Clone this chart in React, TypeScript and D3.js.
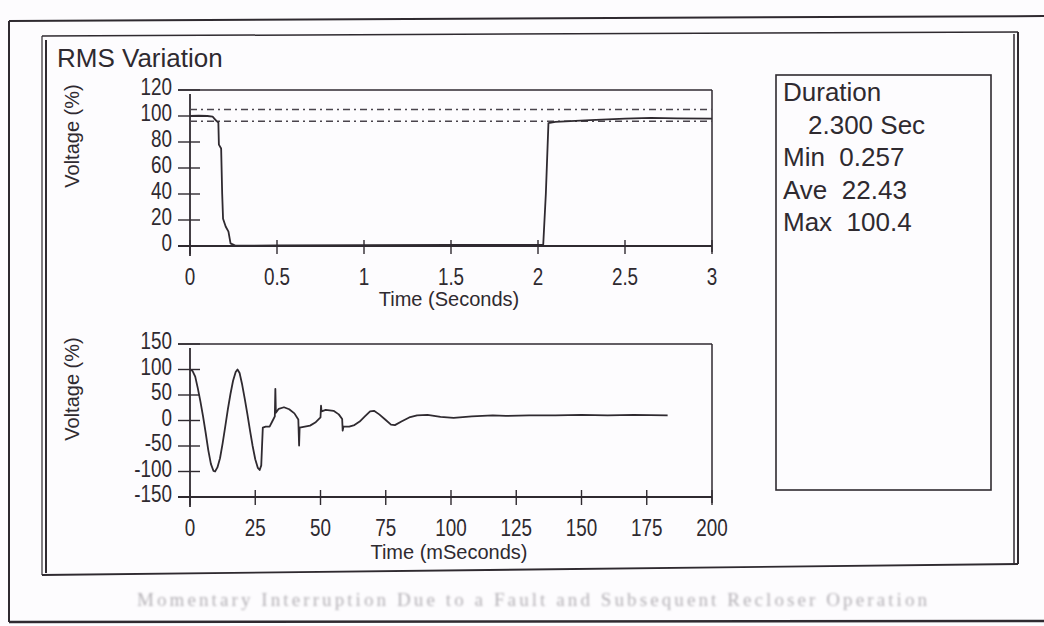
import React from "react";
import * as d3 from "d3";

// RMS trace (time in seconds, voltage in %)
const rmsTime = [0, 0.05, 0.1, 0.13, 0.15, 0.163, 0.166, 0.179, 0.185, 0.19, 0.205, 0.221, 0.233, 0.26, 0.5, 1.0, 1.5, 2.0, 2.03, 2.045, 2.06, 2.1, 2.3, 2.5, 2.65, 2.8, 3.0];
const rmsValue = [100, 100.2, 100, 99.5, 96.5, 95, 78, 75, 40, 21, 15, 11, 2, 0.3, 0.4, 0.6, 0.8, 0.8, 1, 40, 94.5, 95.5, 96.8, 98, 98.6, 98.2, 98];

// Threshold levels drawn as dash-dot lines (%)
const upperLimit = 105;
const lowerLimit = 96;

// Waveform (time in ms, voltage in %)
const waveTime = [0, 1, 2, 3, 4, 5, 6, 7, 8, 9, 9.6, 10.5, 11.5, 12.5, 13.5, 14.5, 15.5, 16.5, 17.5, 18.2, 19, 20, 21, 22, 23, 24, 25, 26, 26.7, 27.3, 27.6, 27.9, 29, 30.5, 31.5, 32.5, 32.7, 32.9, 34, 36, 38, 40, 41.5, 41.8, 42.0, 44, 46, 48, 50, 50.2, 50.4, 52, 55, 57, 58.3, 58.5, 58.8, 61, 63, 65, 67, 69, 70.5, 72.5, 75, 77, 78.5, 81, 84, 87, 91, 96, 101, 108, 116, 121, 130, 140, 150, 160, 170, 183];
const waveValue = [100, 97, 86, 63, 37, 8, -24, -58, -85, -99, -100, -92, -74, -45, -12, 22, 52, 78, 95, 100, 93, 70, 42, 12, -20, -50, -76, -93, -97, -88, -50, -14, -12, -12, -2, 8, 62, 15, 23, 26, 22, 14, 2, -49, -14, -12, -10, -4, 6, 29, 18, 21, 19, 12, 3, -20, -12, -12, -9, -2, 8, 18, 19, 12, 1, -8, -9, -2, 6, 10, 11, 7, 5, 8, 10, 9, 10, 10, 11, 10, 11, 10];

// Axis ticks and labels
const topYTicks = [0, 20, 40, 60, 80, 100, 120];
const topYLabels = ["0", "20", "40", "60", "80", "100", "120"];
const topXTicks = [0, 0.5, 1, 1.5, 2, 2.5, 3];
const topXLabels = ["0", "0.5", "1", "1.5", "2", "2.5", "3"];
const botYTicks = [-150, -100, -50, 0, 50, 100, 150];
const botYLabels = ["-150", "-100", "-50", "0", "50", "100", "150"];
const botXTicks = [0, 25, 50, 75, 100, 125, 150, 175, 200];
const botXLabels = ["0", "25", "50", "75", "100", "125", "150", "175", "200"];

// Summary panel lines
const summaryLines = ["Duration", "2.300 Sec", "Min  0.257", "Ave  22.43", "Max  100.4"];
const summaryIndent = [0, 1, 0, 0, 0];

const chartTitle = "RMS Variation";
const caption = "Momentary Interruption Due to a Fault and Subsequent Recloser Operation";

const INK = "#2f2a30";
const SANS = "'Liberation Sans', Arial, sans-serif";

// Narrow tick-label text: regular face squeezed horizontally around its anchor
function TickText({ x, y, anchor, children }: { x: number; y: number; anchor: "end" | "middle"; children: React.ReactNode }) {
  return (
    <text
      transform={`translate(${x},${y}) scale(0.82,1)`}
      textAnchor={anchor}
      fontFamily={SANS}
      fontSize={23}
      fill={INK}
    >
      {children}
    </text>
  );
}

export default function App() {
  const xTop = d3.scaleLinear().domain([0, 3]).range([190, 712]);
  const yTop = d3.scaleLinear().domain([0, 120]).range([246, 90]);
  const xBot = d3.scaleLinear().domain([0, 200]).range([190, 712]);
  const yBot = d3.scaleLinear().domain([-150, 150]).range([497, 344]);

  const rmsPts = rmsTime.map((t, i) => [t, rmsValue[i]] as [number, number]);
  const wavePts = waveTime.map((t, i) => [t, waveValue[i]] as [number, number]);

  const rmsLine = d3
    .line<[number, number]>()
    .x((d) => xTop(d[0]))
    .y((d) => yTop(d[1]));
  const waveLine = d3
    .line<[number, number]>()
    .x((d) => xBot(d[0]))
    .y((d) => yBot(d[1]));

  const [tx0, tx1] = xTop.range();
  const [bx0, bx1] = xBot.range();

  return (
    <svg
      width={1044}
      height={626}
      style={{ position: "absolute", left: 0, top: 0, background: "#fdfcfe" }}
    >
      <defs>
        <filter id="soft" x="-5%" y="-50%" width="110%" height="200%">
          <feGaussianBlur stdDeviation="0.8" />
        </filter>
      </defs>

      {/* page frames */}
      <g stroke={INK} fill="none">
        <line x1={9} y1={21} x2={1044} y2={16} strokeWidth={2} />
        <line x1={9} y1={21} x2={9} y2={622} strokeWidth={2} />
        <line x1={9} y1={622} x2={1044} y2={621} strokeWidth={2.5} />
        <line x1={42} y1={36} x2={1018} y2={32} strokeWidth={1.5} />
        <line x1={42} y1={36} x2={42} y2={575} strokeWidth={1.2} />
        <line x1={46} y1={40} x2={46} y2={573} strokeWidth={2} />
        <line x1={1014} y1={34} x2={1014} y2={565} strokeWidth={1.5} />
        <line x1={1018} y1={32} x2={1018} y2={564} strokeWidth={2} />
        <line x1={42} y1={575} x2={1018} y2={564} strokeWidth={1.8} />
      </g>

      <text x={57} y={67} fontFamily={SANS} fontSize={26} fill={INK}>
        {chartTitle}
      </text>

      {/* ---------- RMS plot ---------- */}
      <g stroke={INK} fill="none">
        <line x1={178} y1={yTop(120)} x2={tx1} y2={yTop(120)} strokeWidth={1.5} />
        <line x1={tx1} y1={yTop(120)} x2={tx1} y2={yTop(0) + 6} strokeWidth={1.5} />
        <line x1={178} y1={yTop(0)} x2={tx1} y2={yTop(0)} strokeWidth={2.2} />
        <line x1={tx0} y1={yTop(120) + 4} x2={tx0} y2={yTop(0) + 10} strokeWidth={1.8} />
        {topYTicks.map((v) => (
          <line key={v} x1={178} x2={200} y1={yTop(v)} y2={yTop(v)} strokeWidth={1.4} />
        ))}
        {topXTicks.map((v) => (
          <line key={v} x1={xTop(v)} x2={xTop(v)} y1={yTop(0) - 6} y2={yTop(0) + 8} strokeWidth={1.4} />
        ))}
      </g>
      <g stroke="#4a444c" strokeWidth={1.6} strokeDasharray="7,4,2,4" fill="none">
        <line x1={tx0} x2={tx1} y1={yTop(upperLimit)} y2={yTop(upperLimit)} />
        <line x1={tx0} x2={tx1} y1={yTop(lowerLimit)} y2={yTop(lowerLimit)} />
      </g>
      <path d={rmsLine(rmsPts) || ""} fill="none" stroke={INK} strokeWidth={1.8} strokeLinejoin="round" />
      {topYTicks.map((v, i) => (
        <TickText key={v} x={172} y={yTop(v) + 5} anchor="end">
          {topYLabels[i]}
        </TickText>
      ))}
      {topXTicks.map((v, i) => (
        <TickText key={v} x={xTop(v)} y={285} anchor="middle">
          {topXLabels[i]}
        </TickText>
      ))}
      <text x={449} y={306} textAnchor="middle" fontFamily={SANS} fontSize={20} fill={INK}>
        Time (Seconds)
      </text>
      <text
        transform="translate(79,136) rotate(-90)"
        textAnchor="middle"
        fontFamily={SANS}
        fontSize={20}
        fill={INK}
      >
        Voltage (%)
      </text>

      {/* ---------- Waveform plot ---------- */}
      <g stroke={INK} fill="none">
        <line x1={178} y1={yBot(150)} x2={bx1} y2={yBot(150)} strokeWidth={1.5} />
        <line x1={bx1} y1={yBot(150)} x2={bx1} y2={yBot(-150) + 6} strokeWidth={1.5} />
        <line x1={178} y1={yBot(-150)} x2={bx1} y2={yBot(-150)} strokeWidth={2.2} />
        <line x1={bx0} y1={yBot(150) + 4} x2={bx0} y2={yBot(-150) + 10} strokeWidth={1.8} />
        {botYTicks.map((v) => (
          <line key={v} x1={178} x2={200} y1={yBot(v)} y2={yBot(v)} strokeWidth={1.4} />
        ))}
        {botXTicks.map((v) => (
          <line key={v} x1={xBot(v)} x2={xBot(v)} y1={yBot(-150) - 7} y2={yBot(-150) + 8} strokeWidth={1.4} />
        ))}
      </g>
      <path d={waveLine(wavePts) || ""} fill="none" stroke={INK} strokeWidth={1.8} strokeLinejoin="round" />
      {botYTicks.map((v, i) => (
        <TickText key={v} x={172} y={yBot(v) + 5} anchor="end">
          {botYLabels[i]}
        </TickText>
      ))}
      {botXTicks.map((v, i) => (
        <TickText key={v} x={xBot(v)} y={536} anchor="middle">
          {botXLabels[i]}
        </TickText>
      ))}
      <text x={449} y={559} textAnchor="middle" fontFamily={SANS} fontSize={20} fill={INK}>
        Time (mSeconds)
      </text>
      <text
        transform="translate(79,389) rotate(-90)"
        textAnchor="middle"
        fontFamily={SANS}
        fontSize={20}
        fill={INK}
      >
        Voltage (%)
      </text>

      {/* ---------- Summary panel ---------- */}
      <rect x={776} y={75} width={215} height={415} fill="none" stroke={INK} strokeWidth={1.6} />
      <g fontFamily={SANS} fontSize={26} fill={INK}>
        {summaryLines.map((s, i) => (
          <text key={i} x={783 + summaryIndent[i] * 25} y={101 + i * 32.6} style={{ whiteSpace: "pre" }}>
            {s}
          </text>
        ))}
      </g>

      {/* figure caption */}
      <text
        x={137}
        y={606}
        textLength={790}
        lengthAdjust="spacing"
        fontFamily="'Liberation Serif', serif"
        fontSize={19}
        fill="#b3b0b5"
        filter="url(#soft)"
      >
        {caption}
      </text>
    </svg>
  );
}
